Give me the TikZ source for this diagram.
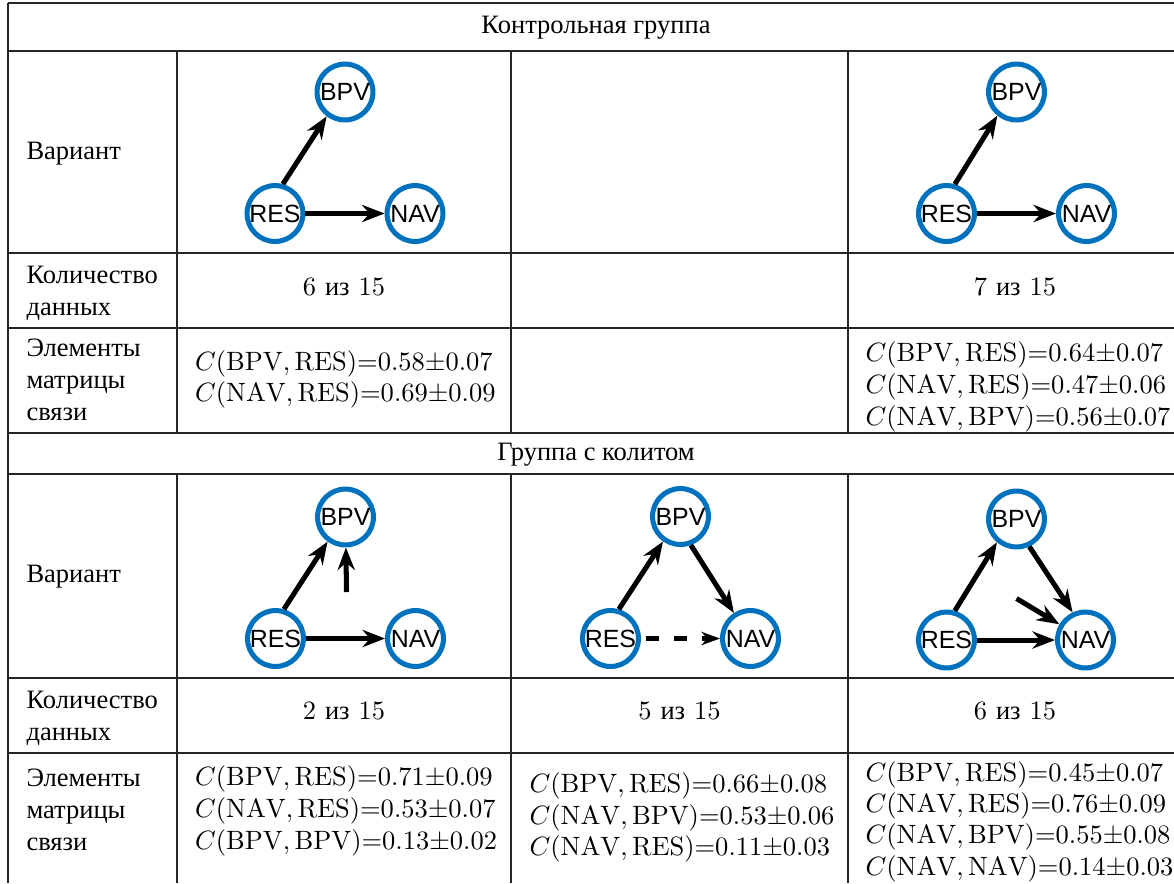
\documentclass[tikz,border=0pt]{standalone}
\usepackage{fontspec}
\newfontfamily\rufnt{Liberation Serif}
\newfontfamily\lblfnt{Liberation Sans}
\usetikzlibrary{arrows.meta}
\definecolor{ringblue}{RGB}{0,114,189}
\tikzset{
  grid/.style={line width=0.4pt, draw=black!85},
  lbl/.style={anchor=base west, inner sep=0pt, font=\rufnt},
  hdr/.style={anchor=base, inner sep=0pt, font=\rufnt},
  cnt/.style={anchor=base, inner sep=0pt},
  ce/.style={anchor=base west, inner sep=0pt},
  vert/.style={circle, draw=ringblue, line width=1.9pt, minimum size=21.1pt,
    inner sep=0pt, font=\lblfnt\fontsize{9.4}{10}\selectfont},
  arr/.style={line width=1.9pt, -{Stealth[length=8.5pt,width=6.5pt,inset=2.8pt]}},
  darr/.style={line width=1.7pt, dash pattern=on 4.9pt off 5.7pt, dash phase=8.7pt,
    -{Stealth[length=7pt,width=5pt,inset=2.2pt]}}
}
\newcommand{\ctext}[4]{$C(\mathrm{#1},\mathrm{#2}){=}#3{\pm}#4$}
\begin{document}
\begin{tikzpicture}[x=0.3774pt,y=-0.3774pt]
\useasboundingbox (0,0) rectangle (1174,883);
% table rules
\draw[grid] (8,3) -- (1174,3);
\foreach \yy in {51,253,328,433,474,678,753} \draw[grid] (8,\yy) -- (1174,\yy);
\draw[grid] (8,3) -- (8,883);
\foreach \xx in {177,511,848} {
  \draw[grid] (\xx,51) -- (\xx,433);
  \draw[grid] (\xx,474) -- (\xx,883);
}
% headers
\node[hdr] (h1) at (596,33.5) {Контрольная группа};
\node[hdr] (h2) at (596,460.5) {Группа с колитом};
% first column labels (top group)
\node[lbl] (v1) at (26,159) {Вариант};
\node[lbl] (k1a) at (26,283.3) {Количество};
\node[lbl] (k1b) at (26,315) {данных};
\node[lbl] (e1a) at (26,356.7) {Элементы};
\node[lbl] (e1b) at (26,388.3) {матрицы};
\node[lbl] (e1c) at (26,420.3) {связи};
% first column labels (bottom group)
\node[lbl] (v2) at (26,582) {Вариант};
\node[lbl] (k2a) at (26,708.3) {Количество};
\node[lbl] (k2b) at (26,740) {данных};
\node[lbl] (e2a) at (26,786.7) {Элементы};
\node[lbl] (e2b) at (26,818.3) {матрицы};
\node[lbl] (e2c) at (26,850) {связи};
% counts
\node[cnt] (n1c) at (344,295) {6 {\rufnt из} 15};
\node[cnt] (n2c) at (1015,295) {7 {\rufnt из} 15};
\node[cnt] (n3c) at (344,719) {2 {\rufnt из} 15};
\node[cnt] (n4c) at (679.5,719) {5 {\rufnt из} 15};
\node[cnt] (n5c) at (1015,719) {6 {\rufnt из} 15};
% coupling elements
\node[ce] (c1a) at (194.5,370.5) {\ctext{BPV}{RES}{0.58}{0.07}};
\node[ce] (c1b) at (194.5,401.7) {\ctext{NAV}{RES}{0.69}{0.09}};
\node[ce] (c2a) at (865,361.7) {\ctext{BPV}{RES}{0.64}{0.07}};
\node[ce] (c2b) at (865,393.3) {\ctext{NAV}{RES}{0.47}{0.06}};
\node[ce] (c2c) at (865,425) {\ctext{NAV}{BPV}{0.56}{0.07}};
\node[ce] (c3a) at (194.5,785.7) {\ctext{BPV}{RES}{0.71}{0.09}};
\node[ce] (c3b) at (194.5,817.3) {\ctext{NAV}{RES}{0.53}{0.07}};
\node[ce] (c3c) at (194.5,849) {\ctext{BPV}{BPV}{0.13}{0.02}};
\node[ce] (c4a) at (529,792.5) {\ctext{BPV}{RES}{0.66}{0.08}};
\node[ce] (c4b) at (529,824) {\ctext{NAV}{BPV}{0.53}{0.06}};
\node[ce] (c4c) at (529,855.5) {\ctext{NAV}{RES}{0.11}{0.03}};
\node[ce] (c5a) at (865,781) {\ctext{BPV}{RES}{0.45}{0.07}};
\node[ce] (c5b) at (865,812.3) {\ctext{NAV}{RES}{0.76}{0.09}};
\node[ce] (c5c) at (865,843.6) {\ctext{NAV}{BPV}{0.55}{0.08}};
\node[ce] (c5d) at (865,875) {\ctext{NAV}{NAV}{0.14}{0.03}};
% graph 1
\node[vert] (b1) at (345,92) {BPV};
\node[vert] (r1) at (275,213.5) {RES};
\node[vert] (n1) at (415,213.5) {NAV};
\draw[arr] (r1.75) -- (b1.233);
\draw[arr] (r1) -- (n1);
% graph 2
\node[vert] (b2) at (1016.5,92) {BPV};
\node[vert] (r2) at (946.5,213.5) {RES};
\node[vert] (n2) at (1086.5,213.5) {NAV};
\draw[arr] (r2.74) -- (b2.231);
\draw[arr] (r2) -- (n2);
% graph 3
\node[vert] (b3) at (345.5,517) {BPV};
\node[vert] (r3) at (275.5,638.5) {RES};
\node[vert] (n3) at (415.5,638.5) {NAV};
\coordinate (s3) at (346.5,592);
\draw[arr] (r3.74) -- (b3.234);
\draw[arr] (r3) -- (n3);
\draw[arr] (s3) -- (b3);
% graph 4
\node[vert] (b4) at (680.5,516.5) {BPV};
\node[vert] (r4) at (610.5,638.5) {RES};
\node[vert] (n4) at (750.5,638.5) {NAV};
\draw[arr] (r4.74) -- (b4.235);
\draw[arr] (b4.290) -- (n4.123);
\draw[darr] (r4) -- (n4);
% graph 5
\node[vert] (b5) at (1016.5,519) {BPV};
\node[vert] (r5) at (946.5,640) {RES};
\node[vert] (n5) at (1085.5,640) {NAV};
\coordinate (s5) at (1016.5,598.5);
\draw[arr] (r5.74) -- (b5.230);
\draw[arr] (b5.295) -- (n5.115);
\draw[arr] (r5) -- (n5);
\draw[arr] (s5) -- (n5);
\end{tikzpicture}
\end{document}
